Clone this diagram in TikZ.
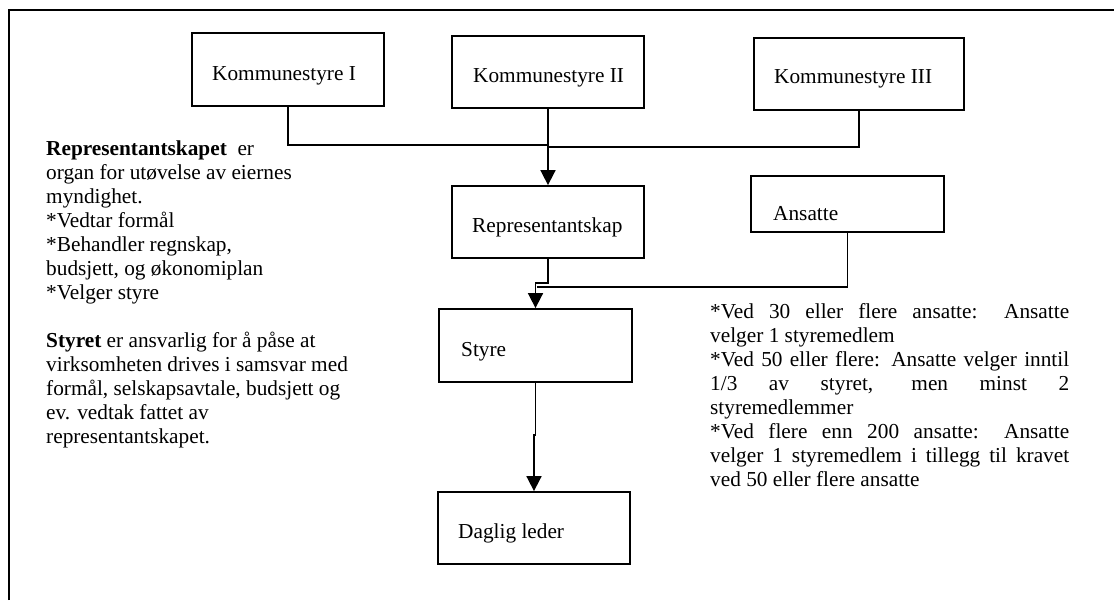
\documentclass[tikz,border=0pt]{standalone}
\usepackage{fontspec}
\setmainfont{Liberation Serif}
\usetikzlibrary{arrows.meta}
\begin{document}
\begin{tikzpicture}[x=1pt,y=-1pt,
  box/.style={draw, line width=1.8pt, inner sep=0pt},
  lbl/.style={anchor=base west, inner sep=0pt, font=\fontsize{21.3}{24}\selectfont},
  txt/.style={anchor=north west, inner sep=0pt, align=left, font=\fontsize{21.3}{24}\selectfont},
  conn/.style={line width=1.7pt},
  arr/.style={line width=1.7pt, -{Triangle[width=15pt,length=15pt]}},
  frame/.style={line width=1.8pt}]
\useasboundingbox (0,0) rectangle (1114,600);
% outer frame (only top and left edges visible)
\coordinate (fbl) at (9,600);
\coordinate (ftl) at (9,10);
\coordinate (ftr) at (1114,10);
\draw[frame] (fbl) -- (ftl) -- (ftr);
% boxes
\node[box, minimum width=192pt, minimum height=73pt] (k1) at (288,69.5) {};
\node[box, minimum width=192pt, minimum height=72pt] (k2) at (548,72) {};
\node[box, minimum width=210pt, minimum height=72pt] (k3) at (859,74) {};
\node[box, minimum width=192pt, minimum height=72pt] (rep) at (548,222) {};
\node[box, minimum width=193pt, minimum height=56pt] (ans) at (847.5,204) {};
\node[box, minimum width=193pt, minimum height=73pt] (sty) at (535.5,345.5) {};
\node[box, minimum width=192pt, minimum height=72pt] (dl) at (534,528) {};
% box labels
\node[lbl] (k1t) at (212,80) {Kommunestyre I};
\node[lbl] (k2t) at (473,82) {Kommunestyre II};
\node[lbl] (k3t) at (774,83) {Kommunestyre III};
\node[lbl] (rept) at (472,232) {Representantskap};
\node[lbl] (anst) at (773,220) {Ansatte};
\node[lbl] (styt) at (461,356) {Styre};
\node[lbl] (dlt) at (458,538) {Daglig leder};
% connectors
\coordinate (j1) at (548,145);
\coordinate (j3) at (548,147);
\draw[conn] (k1.south) |- (j1);
\draw[conn] (k3.south) |- (j3);
\draw[arr] (k2.south) -- (rep.north);
\coordinate (j2) at (535.5,283);
\draw[arr] (rep.south) |- (j2) -- (sty.north);
\coordinate (j4) at (537,287);
\draw[conn] (ans.south) |- (j4);
\coordinate (j5) at (535.5,435);
\draw[arr] (sty.south) -- (j5) -| (dl.north);
% left text
\node[txt] (lefttext) at (46,140.5) {\textbf{Representantskapet}\ \ er\\
organ for utøvelse av eiernes\\
myndighet.\\
*Vedtar formål\\
*Behandler regnskap,\\
budsjett, og økonomiplan\\
*Velger styre\\[24pt]
\textbf{Styret} er ansvarlig for å påse at\\
virksomheten drives i samsvar med\\
formål, selskapsavtale, budsjett og\\
ev. vedtak fattet av\\
representantskapet.};
% right text
\node[txt] (righttext) at (710,303.5) {\makebox[359pt][s]{*Ved 30 eller flere ansatte: Ansatte}\\
velger 1 styremedlem\\
\makebox[359pt][s]{*Ved 50 eller flere: Ansatte velger inntil}\\
\makebox[359pt][s]{1/3 av styret, men minst 2}\\
styremedlemmer\\
\makebox[359pt][s]{*Ved flere enn 200 ansatte: Ansatte}\\
\makebox[359pt][s]{velger 1 styremedlem i tillegg til kravet}\\
ved 50 eller flere ansatte};
\end{tikzpicture}
\end{document}
